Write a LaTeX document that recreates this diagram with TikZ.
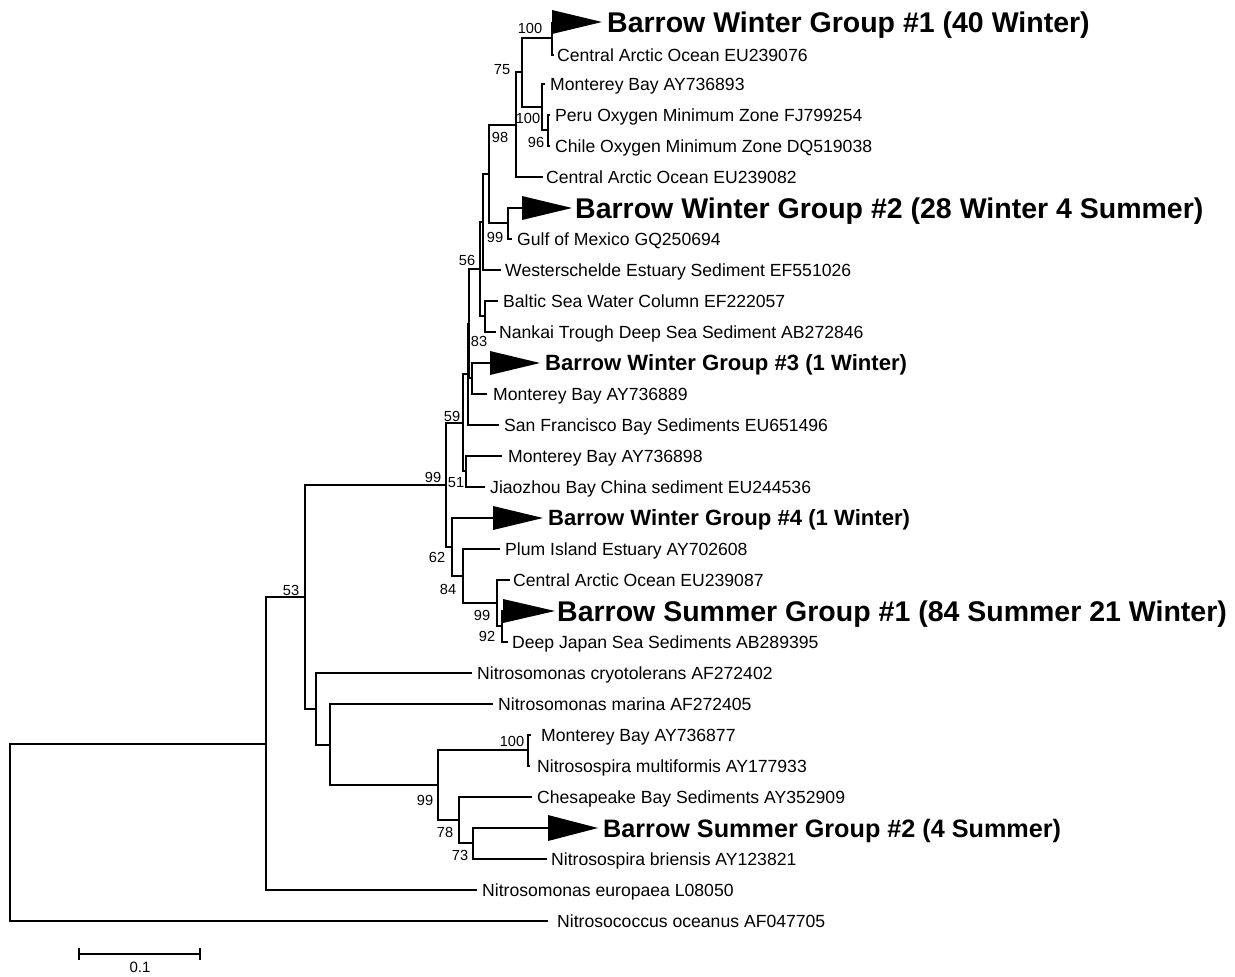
\documentclass[tikz,border=0pt]{standalone}
\usepackage{fontspec}
\setmainfont{Liberation Sans}
\begin{document}
\begin{tikzpicture}[x=1pt,y=-1pt,
  br/.style={line width=2pt, line join=miter},
  lf/.style={anchor=west, inner sep=0pt, font=\fontsize{17.6}{20}\selectfont, text height=12.6pt, text depth=0pt},
  gbig/.style={anchor=west, inner sep=0pt, font=\bfseries\fontsize{28.5}{32}\selectfont, text height=20.4pt, text depth=0pt},
  gmid/.style={anchor=west, inner sep=0pt, font=\bfseries\fontsize{25.2}{28}\selectfont, text height=18pt, text depth=0pt},
  gsml/.style={anchor=west, inner sep=0pt, font=\bfseries\fontsize{22.1}{25}\selectfont, text height=15.8pt, text depth=0pt},
  bs/.style={inner sep=0pt, font=\fontsize{14.6}{17}\selectfont},
  tri/.style={fill=black}]
\path[fill=white] (0,0) rectangle (1235,977);
% internal nodes
\coordinate (root) at (10,832);
\coordinate (n53) at (266,744);
\coordinate (nK) at (305,597);
\coordinate (nL) at (316,709);
\coordinate (nM) at (330,745);
\coordinate (nN) at (438,785);
\coordinate (n100b) at (528,750);
\coordinate (n78) at (459,820);
\coordinate (n73) at (473,843);
\coordinate (nO) at (446,485);
\coordinate (n62) at (452,547);
\coordinate (n84) at (463,576);
\coordinate (n99b) at (497,603);
\coordinate (n92) at (502,626);
\coordinate (n59) at (463,423);
\coordinate (n51) at (466,471);
\coordinate (nU) at (468,374);
\coordinate (nS) at (469,324);
\coordinate (nT) at (472,378);
\coordinate (n56) at (480,269);
\coordinate (nJ) at (485,316);
\coordinate (nH) at (483,222);
\coordinate (nG) at (489,174);
\coordinate (nF) at (508,223);
\coordinate (nD) at (516,125);
\coordinate (nB) at (522,72);
\coordinate (nC) at (542,107);
\coordinate (nE) at (548,130);
\coordinate (nA) at (552,38);
% leaf tips
\coordinate (t1) at (552,22);
\coordinate (l2) at (554,55);
\coordinate (l3) at (545,84);
\coordinate (l4) at (550,115);
\coordinate (l5) at (550,146);
\coordinate (l6) at (543,177);
\coordinate (t7) at (522,208);
\coordinate (l8) at (512,239);
\coordinate (l9) at (501,270);
\coordinate (l10) at (498,301);
\coordinate (l11) at (496,332);
\coordinate (t12) at (490,363);
\coordinate (l13) at (487,394);
\coordinate (l14) at (499,425);
\coordinate (l15) at (502,456);
\coordinate (l16) at (485,487);
\coordinate (t17) at (493,518);
\coordinate (l18) at (500,549);
\coordinate (l19) at (510,580);
\coordinate (t20) at (503,611);
\coordinate (l21) at (508,642);
\coordinate (l22) at (472,673);
\coordinate (l23) at (493,704);
\coordinate (l24) at (531,735);
\coordinate (l25) at (530,766);
\coordinate (l26) at (532,797);
\coordinate (t27) at (548,828);
\coordinate (l28) at (547,859);
\coordinate (l29) at (477,890);
\coordinate (l30) at (548,921);
% branches
\foreach \p/\c in {root/n53, root/l30, n53/nK, n53/l29, nK/nO, nK/nL, nL/l22, nL/nM,
  nM/l23, nM/nN, nN/n100b, nN/n78, n100b/l24, n100b/l25, n78/l26, n78/n73, n73/t27, n73/l28,
  nO/n59, nO/n62, n62/t17, n62/n84, n84/l18, n84/n99b, n99b/l19, n99b/n92, n92/t20, n92/l21,
  n59/nU, n59/n51, n51/l15, n51/l16, nU/nS, nU/l14, nS/n56, nS/nT, nT/t12, nT/l13,
  n56/nH, n56/nJ, nJ/l10, nJ/l11, nH/nG, nH/l9, nG/nD, nG/nF, nF/t7, nF/l8,
  nD/nB, nD/l6, nB/nA, nB/nC, nC/l3, nC/nE, nE/l4, nE/l5, nA/t1, nA/l2}
  \draw[br] (\p) |- (\c);
% collapsed triangles
\fill[tri] (t1) -- ++(0,-12) -- ++(50,12) -- ++(-50,12) -- cycle;
\fill[tri] (t7) -- ++(0,-12) -- ++(50,12) -- ++(-50,12) -- cycle;
\fill[tri] (t12) -- ++(0,-12) -- ++(50,12) -- ++(-50,12) -- cycle;
\fill[tri] (t17) -- ++(0,-12) -- ++(50,12) -- ++(-50,12) -- cycle;
\fill[tri] (t20) -- ++(0,-12) -- ++(52,12) -- ++(-52,12) -- cycle;
\fill[tri] (t27) -- ++(0,-13) -- ++(50,13) -- ++(-50,13) -- cycle;
% leaf labels
\node[gbig] (L1) at (607,22) {Barrow Winter Group \#1 (40 Winter)};
\node[lf] (L2) at (557,55) {Central Arctic Ocean EU239076};
\node[lf] (L3) at (550,84) {Monterey Bay AY736893};
\node[lf] (L4) at (555,115) {Peru Oxygen Minimum Zone FJ799254};
\node[lf] (L5) at (555,146) {Chile Oxygen Minimum Zone DQ519038};
\node[lf] (L6) at (546,177) {Central Arctic Ocean EU239082};
\node[gbig] (L7) at (575,208) {Barrow Winter Group \#2 (28 Winter 4 Summer)};
\node[lf] (L8) at (517,239) {Gulf of Mexico GQ250694};
\node[lf] (L9) at (505,270) {Westerschelde Estuary Sediment EF551026};
\node[lf] (L10) at (503,301) {Baltic Sea Water Column EF222057};
\node[lf] (L11) at (499,332) {Nankai Trough Deep Sea Sediment AB272846};
\node[gsml] (L12) at (545,363) {Barrow Winter Group \#3 (1 Winter)};
\node[lf] (L13) at (493,394) {Monterey Bay AY736889};
\node[lf] (L14) at (504,425) {San Francisco Bay Sediments EU651496};
\node[lf] (L15) at (508,456) {Monterey Bay AY736898};
\node[lf] (L16) at (490,487) {Jiaozhou Bay China sediment EU244536};
\node[gsml] (L17) at (548,518) {Barrow Winter Group \#4 (1 Winter)};
\node[lf] (L18) at (505,549) {Plum Island Estuary AY702608};
\node[lf] (L19) at (513,580) {Central Arctic Ocean EU239087};
\node[gbig] (L20) at (557,611) {Barrow Summer Group \#1 (84 Summer 21 Winter)};
\node[lf] (L21) at (512,642) {Deep Japan Sea Sediments AB289395};
\node[lf] (L22) at (477,673) {Nitrosomonas cryotolerans AF272402};
\node[lf] (L23) at (498,704) {Nitrosomonas marina AF272405};
\node[lf] (L24) at (541,735) {Monterey Bay AY736877};
\node[lf] (L25) at (537,766) {Nitrosospira multiformis AY177933};
\node[lf] (L26) at (537,797) {Chesapeake Bay Sediments AY352909};
\node[gmid] (L27) at (603,828) {Barrow Summer Group \#2 (4 Summer)};
\node[lf] (L28) at (551,859) {Nitrosospira briensis AY123821};
\node[lf] (L29) at (482,890) {Nitrosomonas europaea L08050};
\node[lf] (L30) at (557,921) {Nitrosococcus oceanus AF047705};
% bootstrap values
\node[bs] (b1) at (530,28) {100};
\node[bs] (b2) at (502,70) {75};
\node[bs] (b3) at (528,118) {100};
\node[bs] (b4) at (536,142) {96};
\node[bs] (b5) at (500,137) {98};
\node[bs] (b6) at (495,237) {99};
\node[bs] (b7) at (467,260) {56};
\node[bs] (b8) at (479,341) {83};
\node[bs] (b9) at (452,416) {59};
\node[bs] (b10) at (433,477) {99};
\node[bs] (b11) at (456,483) {51};
\node[bs] (b12) at (437,557) {62};
\node[bs] (b13) at (448,589) {84};
\node[bs] (b14) at (482,615) {99};
\node[bs] (b15) at (487,636) {92};
\node[bs] (b16) at (291,590) {53};
\node[bs] (b17) at (512,741) {100};
\node[bs] (b18) at (425,800) {99};
\node[bs] (b19) at (445,832) {78};
\node[bs] (b20) at (460,855) {73};
% scale bar
\coordinate (s1) at (79,954);
\coordinate (s2) at (200,954);
\draw[line width=1.8pt] (s1) -- (s2);
\draw[line width=1.8pt] ([yshift=6pt]s1) -- ([yshift=-6pt]s1);
\draw[line width=1.8pt] ([yshift=6pt]s2) -- ([yshift=-6pt]s2);
\node[bs, font=\fontsize{15}{17}\selectfont] (sl) at (140,967) {0.1};
\end{tikzpicture}
\end{document}
